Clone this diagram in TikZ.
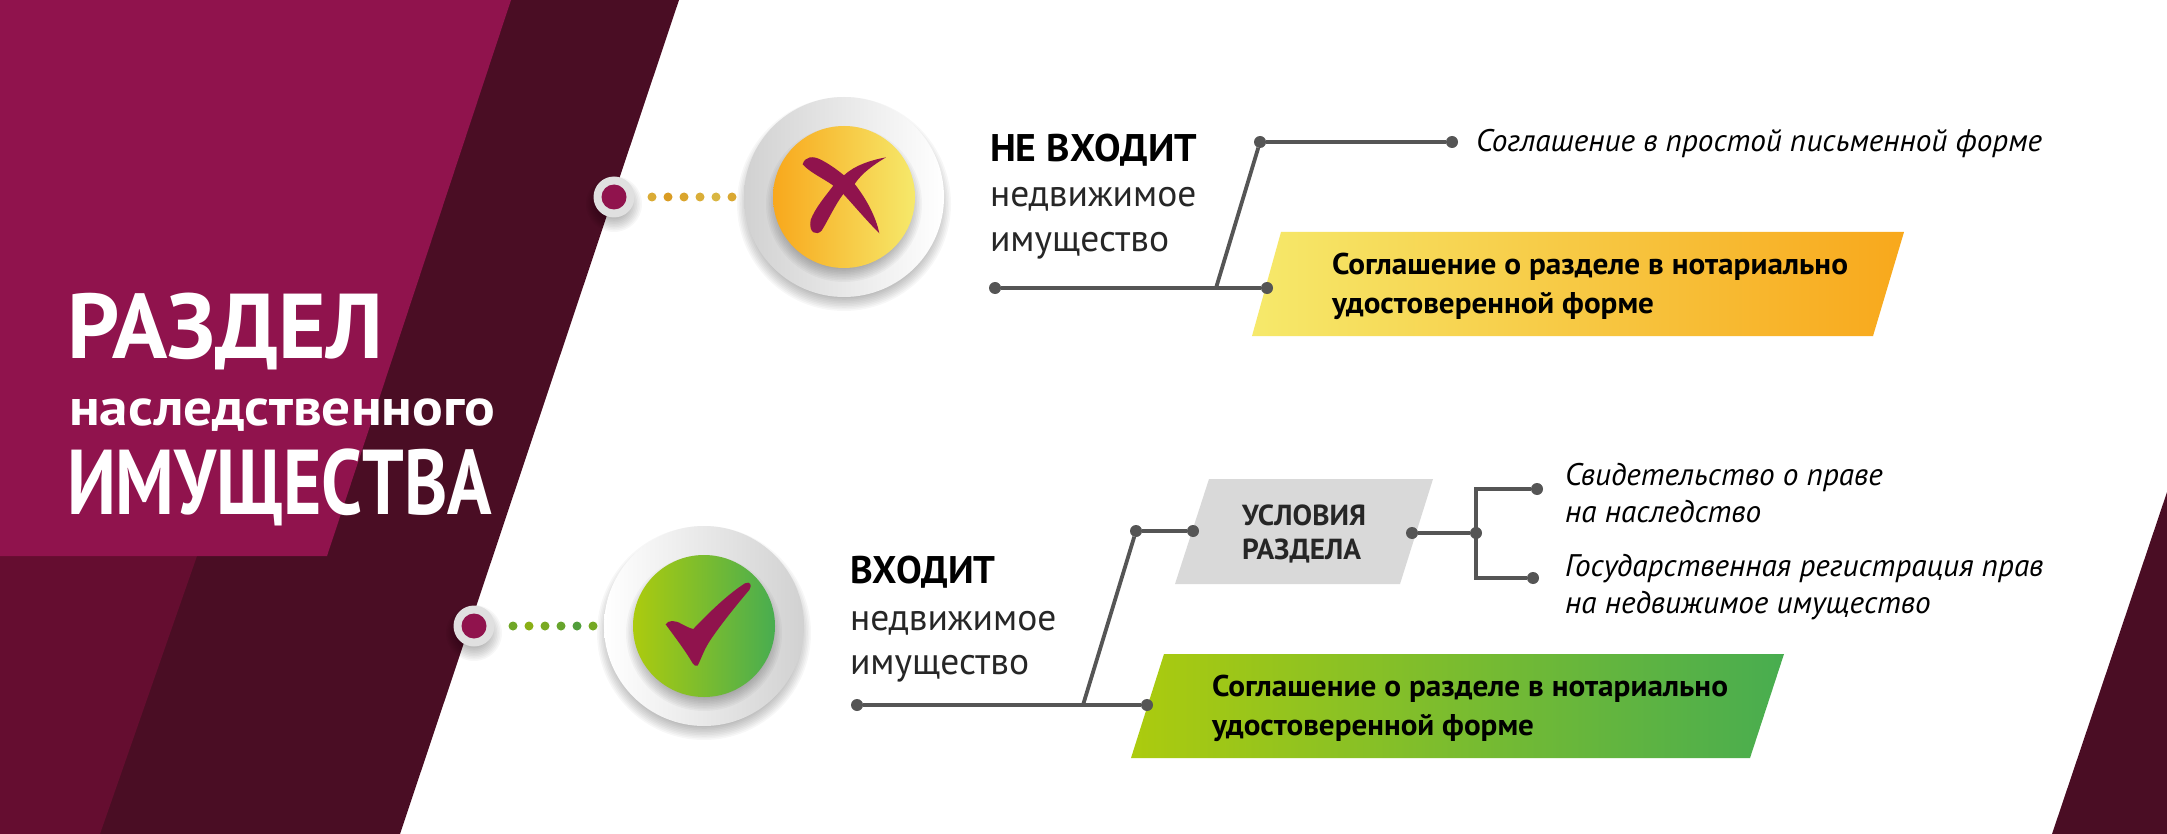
\documentclass[tikz,border=0pt]{standalone}
\usepackage{fontspec}
\usepackage{graphicx}
\setmainfont{PT Sans}
\usetikzlibrary{calc}
\definecolor{darkm}{HTML}{4A0D24}
\definecolor{brightm}{HTML}{90134D}
\definecolor{midm}{HTML}{650D30}
\definecolor{linec}{HTML}{555555}
\definecolor{yel}{HTML}{F6E96B}
\definecolor{ora}{HTML}{F8A81C}
\definecolor{lime}{HTML}{ACCB0E}
\definecolor{grn}{HTML}{48AD50}
\newcommand{\fitw}[2]{\setbox0=\hbox{#2}\pgfmathsetmacro{\fitr}{#1/\the\wd0}\scalebox{\fitr}[1]{\box0}}
\tikzset{
 x=1pt,y=-1pt,
 lbl/.style={anchor=base west,inner sep=0pt,outer sep=0pt,align=left},
 title/.style={lbl,text=white,font=\fontsize{92}{92}\selectfont\bfseries},
 subtitle/.style={lbl,text=white,font=\fontsize{52}{52}\selectfont\bfseries},
 headb/.style={lbl,text=black,font=\fontsize{38.5}{38.5}\selectfont\bfseries},
 headr/.style={lbl,text=black!85,font=\fontsize{37.5}{37.5}\selectfont},
 boxt/.style={lbl,text=black,font=\fontsize{30}{30}\selectfont\bfseries},
 grayt/.style={lbl,text=black!85,font=\fontsize{29}{29}\selectfont\bfseries},
 ital/.style={lbl,text=black,font=\fontsize{31.2}{31.2}\selectfont\itshape},
 jdot/.style={circle,fill=linec,inner sep=0pt,minimum size=12pt,outer sep=0pt},
 conn/.style={draw=linec,line width=3.8pt},
}
\newcommand{\softshadow}[3]{% x y r
  \foreach \k in {0,...,9}{
    \fill[black,opacity=0.03] ($(#1,#2)+(0,7)$) circle ({#3+7-1.6*\k});
  }
}
\begin{document}
\begin{tikzpicture}
\useasboundingbox (0,0) rectangle (2167,834);
\fill[white] (0,0) rectangle (2167,834);
% background
\fill[darkm] (0,0) -- (679,0) -- (400,834) -- (0,834) -- cycle;
\fill[midm] (0,556) -- (197,556) -- (100,834) -- (0,834) -- cycle;
\fill[brightm] (0,0) -- (511,0) -- (327,556) -- (0,556) -- cycle;
\fill[darkm] (2167,492) -- (2167,834) -- (2052,834) -- cycle;
% title
\node[title] (t1) at (67,358) {\fitw{316}{РАЗДЕЛ}};
\node[subtitle] (t2) at (69,425) {\fitw{426}{наследственного}};
\node[title] (t3) at (67,514) {\fitw{425}{ИМУЩЕСТВА}};
% upper circle
\softshadow{844}{197}{100}
\shade[left color=black!18,right color=white] (844,197) circle (100);
\softshadow{844}{197}{71}
\shade[left color=ora,right color=yel] (844,197) circle (71);
\fill[brightm,shift={(560,70)},x=0.3333pt,y=-0.3333pt]
  (728,283) .. controls (735,258) and (760,258) .. (780,268)
  .. controls (805,280) and (830,298) .. (852,316)
  .. controls (885,285) and (935,270) .. (978,262)
  .. controls (940,285) and (905,310) .. (884,342)
  .. controls (918,385) and (948,440) .. (958,490)
  .. controls (920,452) and (885,410) .. (850,372)
  .. controls (825,405) and (805,450) .. (785,482)
  .. controls (770,498) and (745,490) .. (752,450)
  .. controls (765,415) and (795,380) .. (820,347)
  .. controls (790,325) and (750,308) .. (728,283) -- cycle;
\foreach \xx/\cc in {652/60,668/85,684/70,700/55,716/40,732/65}{
  \fill[ora!\cc!yel!88!black] (\xx,197) circle (4.5);
}
\softshadow{614}{197}{21}
\fill[black!12!white] (614,197) circle (20.5);
\fill[brightm] (614,197) circle (12.5);
% lower circle
\softshadow{704}{626}{100}
\shade[left color=white,right color=black!18] (704,626) circle (100);
\softshadow{704}{626}{71}
\shade[left color=lime,right color=grn] (704,626) circle (71);
\fill[brightm,shift={(430,500)},x=0.3333pt,y=-0.3333pt]
  (707,373) .. controls (715,360) and (735,360) .. (755,372)
  .. controls (770,380) and (780,385) .. (790,387)
  .. controls (830,345) and (890,285) .. (945,250)
  .. controls (960,243) and (968,255) .. (958,270)
  .. controls (915,320) and (860,390) .. (835,430)
  .. controls (820,455) and (812,480) .. (803,497)
  .. controls (798,500) and (793,497) .. (788,490)
  .. controls (765,450) and (730,405) .. (707,373) -- cycle;
\foreach \xx/\cc in {513/55,529/85,545/65,561/45,577/20,593/60}{
  \fill[lime!\cc!grn!88!black] (\xx,626) circle (4.5);
}
\softshadow{474}{626}{21}
\fill[black!12!white] (474,626) circle (20.5);
\fill[brightm] (474,626) circle (12.5);
% upper block
\node[headb] (h1) at (990,162) {\fitw{207}{НЕ ВХОДИТ}};
\node[headr] (h1a) at (990,207) {недвижимое};
\node[headr] (h1b) at (990,252) {имущество};
\shade[left color=yel,right color=ora] (1281,232) -- (1904,232) -- (1873,336) -- (1252,336) -- cycle;
\node[boxt] (y1) at (1332,274) {\fitw{516}{Соглашение о разделе в нотариально}};
\node[boxt] (y2) at (1332,313) {\fitw{322}{удостоверенной форме}};
\node[jdot] (a1) at (995,288) {};
\node[jdot] (a2) at (1267,288) {};
\coordinate (a3) at (1216,288);
\node[jdot] (a4) at (1260,142) {};
\node[jdot] (a5) at (1452,142) {};
\draw[conn] (a1) -- (a2);
\draw[conn] (a3) -- (a4) -- (a5);
\node[ital] (i0) at (1476,152) {Соглашение в простой письменной форме};
% lower block
\node[headb] (h2) at (850,583) {ВХОДИТ};
\node[headr] (h2a) at (850,630) {недвижимое};
\node[headr] (h2b) at (850,674) {имущество};
\fill[black!15!white] (1209,479) -- (1433,479) -- (1400,584) -- (1175,584) -- cycle;
\node[grayt] (g1) at (1242,525) {\fitw{124}{УСЛОВИЯ}};
\node[grayt] (g2) at (1242,559) {\fitw{119}{РАЗДЕЛА}};
\shade[left color=lime,right color=grn] (1164,654) -- (1784,654) -- (1750,758) -- (1131,758) -- cycle;
\node[boxt] (z1) at (1212,696) {\fitw{516}{Соглашение о разделе в нотариально}};
\node[boxt] (z2) at (1212,735) {\fitw{322}{удостоверенной форме}};
\node[jdot] (b1) at (857,705) {};
\node[jdot] (b2) at (1147,705) {};
\coordinate (b3) at (1083,705);
\node[jdot] (b4) at (1136,531) {};
\node[jdot] (b5) at (1193,531) {};
\draw[conn] (b1) -- (b2);
\draw[conn] (b3) -- (b4) -- (b5);
\node[jdot] (c1) at (1412,533) {};
\node[jdot] (c2) at (1476,533) {};
\node[jdot] (c3) at (1537,489) {};
\node[jdot] (c4) at (1533,578) {};
\draw[conn] (c1) -- (c2);
\draw[conn] (c3) -- (1476,489) -- (1476,578) -- (c4);
\node[ital] (i1) at (1565,485) {Свидетельство о праве};
\node[ital] (i2) at (1565,522) {на наследство};
\node[ital] (i3) at (1565,576) {Государственная регистрация прав};
\node[ital] (i4) at (1565,613) {на недвижимое имущество};
\end{tikzpicture}
\end{document}
